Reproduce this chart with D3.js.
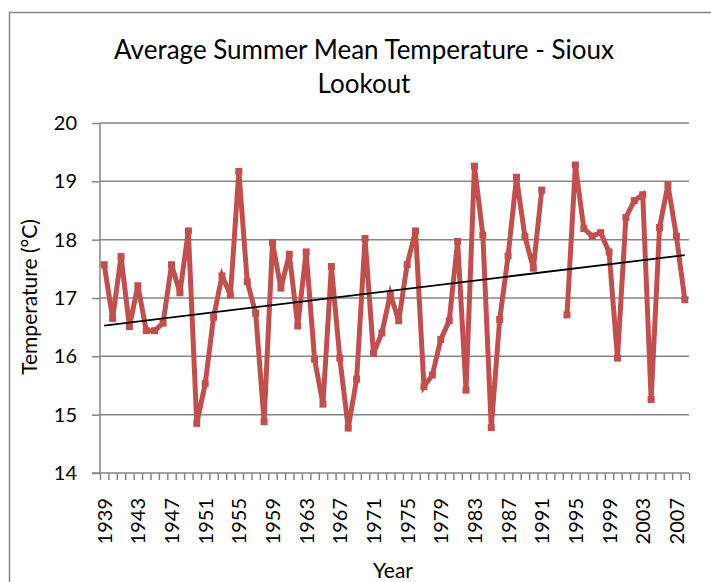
<!DOCTYPE html>
<html>
<head>
<meta charset="utf-8">
<script src="https://cdn.jsdelivr.net/npm/d3@7"></script>
<style>
  body { margin: 0; background: #fff; }
  svg { display: block; font-family: Lato, "Open Sans", sans-serif; }
</style>
</head>
<body>
<div id="chart"></div>
<script>
// years on the category axis, 1939 to 2008
const years = d3.range(1939, 2009)

// summer mean temperature (°C), null where missing
const temps = [
  17.57, 16.65, 17.71, 16.51, 17.21, 16.44, 16.44, 16.57, 17.57, 17.09,
  18.15, 14.85, 15.53, 16.67, 17.38, 17.05, 19.17, 17.28, 16.74, 14.88,
  17.95, 17.17, 17.75, 16.52, 17.79, 15.95, 15.18, 17.54, 15.97, 14.77,
  15.61, 18.02, 16.05, 16.40, 17.07, 16.61, 17.57, 18.15, 15.48, 15.68,
  16.29, 16.61, 17.97, 15.42, 19.26, 18.08, 14.78, 16.63, 17.72, 19.07,
  18.05, 17.51, 18.85, null, null, 16.71, 19.28, 18.19, 18.06, 18.12,
  17.79, 15.97, 18.38, 18.67, 18.77, 15.26, 18.21, 18.94, 18.06, 16.97
]

const yTicks = [14, 15, 16, 17, 18, 19, 20]
const labelYears = years.filter((d, i) => i % 4 === 0)

const w = 711
const h = 582
const pLeft = 100, pRight = 689, pTop = 123, pBottom = 473

const svg = d3.select('#chart')
  .append('svg')
  .attr('width', w)
  .attr('height', h)

// chart border (runs off the right and bottom edges)
svg.append('rect')
  .attr('x', 9.5).attr('y', 12.5)
  .attr('width', 760).attr('height', 640)
  .attr('fill', 'none')
  .attr('stroke', '#868686')
  .attr('stroke-width', 1.5)

const x = d3.scaleBand().domain(years).range([pLeft, pRight])
const cx = (yr) => x(yr) + x.bandwidth() / 2
const y = d3.scaleLinear().domain([14, 20]).range([pBottom, pTop])

// gridlines
svg.append('g')
  .selectAll('line')
  .data(yTicks.slice(1))
  .enter()
  .append('line')
  .attr('x1', pLeft).attr('x2', pRight)
  .attr('y1', d => y(d)).attr('y2', d => y(d))
  .attr('stroke', '#868686')
  .attr('stroke-width', 1.5)

// y axis
const yAxis = svg.append('g')
  .attr('transform', `translate(${pLeft},0)`)
  .call(d3.axisLeft(y).tickValues(yTicks).tickFormat(d3.format('d')).tickSize(8).tickPadding(15))
yAxis.selectAll('line, path').attr('stroke', '#868686').attr('stroke-width', 1.5)
yAxis.select('.domain').attr('d', `M0,${pBottom}V${pTop}`)
yAxis.selectAll('text').attr('font-size', 20).attr('fill', '#000')
  .attr('font-family', 'Lato, "Open Sans", sans-serif')

// x axis: tick marks at category boundaries
const xIdx = d3.scaleLinear().domain([0, years.length]).range([pLeft, pRight])
const xAxis = svg.append('g')
  .attr('transform', `translate(0,${pBottom})`)
  .call(d3.axisBottom(xIdx).tickValues(d3.range(0, years.length + 1)).tickSize(7).tickFormat(''))
xAxis.selectAll('line, path').attr('stroke', '#868686').attr('stroke-width', 1.5)
xAxis.select('.domain').attr('d', `M${pLeft - 8},0H${pRight}`)

// x tick labels, rotated
svg.append('g')
  .selectAll('text')
  .data(labelYears)
  .enter()
  .append('text')
  .attr('transform', d => `translate(${cx(d) + 7.5},498) rotate(-90)`)
  .attr('text-anchor', 'end')
  .attr('font-size', 20)
  .text(d => d)

// series line with gap
const line = d3.line()
  .defined(d => d[1] !== null)
  .x(d => cx(d[0]))
  .y(d => y(d[1]))
const pts = years.map((yr, i) => [yr, temps[i]])

svg.append('path')
  .datum(pts)
  .attr('d', line)
  .attr('fill', 'none')
  .attr('stroke', '#C0504D')
  .attr('stroke-width', 5)
  .attr('stroke-linejoin', 'miter')

svg.append('g')
  .selectAll('rect')
  .data(pts.filter(d => d[1] !== null))
  .enter()
  .append('rect')
  .attr('x', d => cx(d[0]) - 3.5)
  .attr('y', d => y(d[1]) - 3.5)
  .attr('width', 7).attr('height', 7)
  .attr('fill', '#C0504D')

// linear trendline (least squares on category index)
const valid = pts.map((d, i) => [i + 1, d[1]]).filter(d => d[1] !== null)
const mx = d3.mean(valid, d => d[0])
const my = d3.mean(valid, d => d[1])
const slope = d3.sum(valid, d => (d[0] - mx) * (d[1] - my)) / d3.sum(valid, d => (d[0] - mx) ** 2)
const icpt = my - slope * mx
const trend = [[years[0], icpt + slope * 1], [years[years.length - 1], icpt + slope * years.length]]

svg.append('path')
  .datum(trend)
  .attr('d', d3.line().x(d => cx(d[0])).y(d => y(d[1])))
  .attr('stroke', '#000')
  .attr('stroke-width', 1.75)
  .attr('fill', 'none')

// titles
svg.append('text')
  .attr('x', 364).attr('y', 59)
  .attr('text-anchor', 'middle')
  .attr('font-size', 26)
  .text('Average Summer Mean Temperature - Sioux')
svg.append('text')
  .attr('x', 364).attr('y', 93)
  .attr('text-anchor', 'middle')
  .attr('font-size', 26)
  .text('Lookout')

svg.append('text')
  .attr('transform', 'translate(37,297) rotate(-90)')
  .attr('text-anchor', 'middle')
  .attr('font-size', 21)
  .text('Temperature (°C)')

svg.append('text')
  .attr('x', 393).attr('y', 578)
  .attr('text-anchor', 'middle')
  .attr('font-size', 21)
  .text('Year')
</script>
</body>
</html>
